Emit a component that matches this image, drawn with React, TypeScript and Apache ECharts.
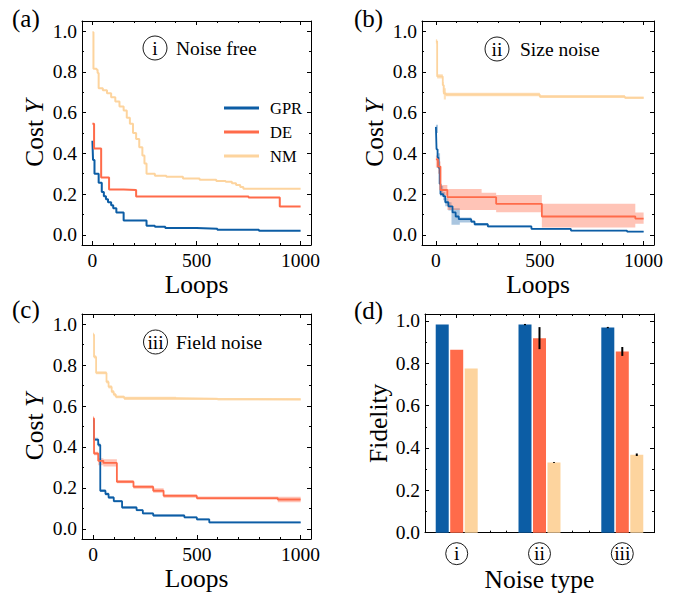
import React, { useEffect, useRef } from 'react';
import * as echarts from 'echarts';

const FONT = 'Liberation Serif';
const methods = ['GPR', 'DE', 'NM'];
const colors = ['#0C5DA5', '#FF6B4A', '#FDD49E'];
const bandColors = ['rgba(12,93,165,0.35)', 'rgba(255,107,74,0.4)', 'rgba(253,196,120,0.5)'];

// tick values
const loopTicks = [0, 500, 1000];
const loopMinorTicks = [100, 200, 300, 400, 600, 700, 800, 900];
const costTicks = [0, 0.2, 0.4, 0.6, 0.8, 1.0];
const costMinorTicks = [0.1, 0.3, 0.5, 0.7, 0.9];
const noiseTypes = ['i', 'ii', 'iii'];
const noiseTickPos = [0, 1, 2];
const noiseMinorTicks = [-0.2, 0.2, 0.4, 0.6, 0.8, 1.2, 1.4, 1.6, 1.8, 2.2];
const annotations = ['Noise free', 'Size noise', 'Field noise'];

// (a) noise free: [loop, cost]
const gprA = [[0, 0.462], [3, 0.367], [10, 0.3], [30, 0.256], [45, 0.21], [55, 0.19], [65, 0.175], [75, 0.16], [90, 0.145], [100, 0.13], [115, 0.11], [150, 0.07], [260, 0.045], [300, 0.04], [350, 0.033], [500, 0.03], [600, 0.025], [800, 0.02], [1000, 0.017]];
const deA = [[0, 0.545], [8, 0.424], [42, 0.282], [80, 0.223], [150, 0.22], [210, 0.188], [750, 0.183], [900, 0.139], [1000, 0.139]];
const nmA = [[0, 0.995], [5, 0.816], [20, 0.81], [25, 0.795], [30, 0.72], [50, 0.71], [70, 0.695], [90, 0.675], [110, 0.655], [130, 0.63], [150, 0.61], [165, 0.575], [180, 0.545], [195, 0.5], [210, 0.47], [225, 0.43], [240, 0.39], [250, 0.35], [260, 0.3], [300, 0.29], [355, 0.285], [435, 0.277], [515, 0.27], [595, 0.264], [640, 0.26], [670, 0.253], [690, 0.245], [710, 0.235], [725, 0.226], [1000, 0.226]];

// (b) size noise: lines [loop, cost], bands [loop, low, high]
const gprB = [[0, 0.53], [3, 0.42], [8, 0.38], [12, 0.33], [18, 0.25], [22, 0.2], [35, 0.19], [45, 0.16], [60, 0.14], [80, 0.11], [95, 0.09], [110, 0.077], [170, 0.065], [186, 0.052], [250, 0.041], [460, 0.029], [650, 0.021], [920, 0.016], [1000, 0.016]];
const gprBandB = [[0, 0.5, 0.54], [10, 0.33, 0.4], [20, 0.19, 0.24], [35, 0.17, 0.21], [45, 0.14, 0.18], [60, 0.12, 0.16], [75, 0.05, 0.13], [115, 0.06, 0.085], [170, 0.058, 0.072], [186, 0.046, 0.058], [250, 0.036, 0.046], [460, 0.025, 0.033], [650, 0.018, 0.024], [920, 0.013, 0.019], [1000, 0.013, 0.019]];
const deB = [[0, 0.37], [10, 0.335], [22, 0.22], [55, 0.185], [290, 0.152], [510, 0.09], [960, 0.08], [1000, 0.08]];
const deBandB = [[0, 0.33, 0.39], [10, 0.3, 0.36], [22, 0.195, 0.245], [55, 0.122, 0.225], [220, 0.122, 0.207], [290, 0.111, 0.196], [510, 0.036, 0.152], [960, 0.054, 0.109], [1000, 0.054, 0.109]];
const nmB = [[0, 0.95], [6, 0.778], [33, 0.735], [38, 0.694], [48, 0.689], [500, 0.679], [910, 0.673], [1000, 0.672]];
const nmBandB = [[0, 0.94, 0.96], [6, 0.768, 0.788], [33, 0.7, 0.75], [38, 0.664, 0.72], [48, 0.68, 0.698], [500, 0.672, 0.686], [910, 0.668, 0.678], [1000, 0.668, 0.678]];

// (c) field noise
const gprC = [[0, 0.53], [5, 0.436], [25, 0.41], [35, 0.186], [60, 0.17], [75, 0.153], [100, 0.135], [140, 0.104], [210, 0.091], [240, 0.075], [290, 0.065], [440, 0.056], [500, 0.046], [560, 0.031], [1000, 0.028]];
const gprBandC = [[0, 0.52, 0.54], [5, 0.43, 0.445], [25, 0.4, 0.42], [35, 0.18, 0.193], [60, 0.163, 0.177], [75, 0.147, 0.159], [100, 0.129, 0.141], [140, 0.099, 0.11], [210, 0.086, 0.096], [240, 0.07, 0.08], [290, 0.06, 0.07], [440, 0.051, 0.061], [500, 0.041, 0.051], [560, 0.026, 0.036], [1000, 0.024, 0.032]];
const deC = [[0, 0.539], [5, 0.368], [25, 0.332], [50, 0.322], [115, 0.23], [195, 0.205], [290, 0.186], [340, 0.161], [500, 0.15], [890, 0.143], [1000, 0.143]];
const deBandC = [[0, 0.53, 0.55], [5, 0.36, 0.376], [25, 0.31, 0.345], [50, 0.305, 0.34], [115, 0.222, 0.238], [195, 0.196, 0.214], [290, 0.176, 0.198], [340, 0.152, 0.17], [500, 0.142, 0.158], [890, 0.13, 0.156], [1000, 0.13, 0.156]];
const nmC = [[0, 0.949], [5, 0.84], [15, 0.762], [65, 0.718], [75, 0.694], [90, 0.67], [100, 0.656], [110, 0.645], [150, 0.638], [400, 0.635], [600, 0.633], [1000, 0.632]];
const nmBandC = [[0, 0.94, 0.958], [5, 0.832, 0.848], [15, 0.755, 0.77], [65, 0.71, 0.726], [75, 0.686, 0.702], [90, 0.662, 0.678], [100, 0.648, 0.664], [110, 0.638, 0.652], [150, 0.629, 0.646], [400, 0.629, 0.641], [600, 0.627, 0.639], [1000, 0.627, 0.637]];

// (d) fidelity bars, per noise type
const fidelityGPR = [0.983, 0.983, 0.969];
const fidelityDE = [0.864, 0.919, 0.856];
const fidelityNM = [0.776, 0.331, 0.368];
const errGPR = [0, 0.003, 0.003];
const errDE = [0, 0.052, 0.021];
const errNM = [0, 0.002, 0.006];
const barOffsets = [-0.175, 0, 0.175];

const tickLine = { color: '#000', width: 1 };

function xAxes(grid: number, min: number, max: number, major: number[], minor: number[], label: any, name: string, nameGap: number) {
  const base: any = { type: 'value', gridIndex: grid, min, max, splitLine: { show: false } };
  const line = { show: true, onZero: false, lineStyle: { color: '#000', width: 1 } };
  const noLine = { show: false, onZero: false };
  return [
    {
      ...base, position: 'bottom', axisLine: line,
      axisTick: { show: true, inside: true, length: 4, customValues: major, lineStyle: tickLine },
      axisLabel: { show: true, customValues: major, margin: 5, color: '#000', fontFamily: FONT, fontSize: 19.5, ...label },
      name, nameLocation: 'middle', nameGap,
      nameTextStyle: { fontFamily: FONT, fontSize: 25.5, color: '#000' },
    },
    { ...base, position: 'top', axisLine: line, axisTick: { show: true, inside: true, length: 4, customValues: major, lineStyle: tickLine }, axisLabel: { show: false } },
    { ...base, position: 'bottom', axisLine: noLine, axisTick: { show: true, inside: true, length: 2, customValues: minor, lineStyle: tickLine }, axisLabel: { show: false } },
    { ...base, position: 'top', axisLine: noLine, axisTick: { show: true, inside: true, length: 2, customValues: minor, lineStyle: tickLine }, axisLabel: { show: false } },
  ];
}

function yAxes(grid: number, min: number, max: number, name: any, nameGap: number, rich: any) {
  const base: any = { type: 'value', gridIndex: grid, min, max, splitLine: { show: false } };
  const line = { show: true, onZero: false, lineStyle: { color: '#000', width: 1 } };
  const noLine = { show: false, onZero: false };
  return [
    {
      ...base, position: 'left', axisLine: line,
      axisTick: { show: true, inside: true, length: 4, customValues: costTicks, lineStyle: tickLine },
      axisLabel: { show: true, customValues: costTicks, margin: 5, color: '#000', fontFamily: FONT, fontSize: 19.5, formatter: (v: number) => v.toFixed(1) },
      name, nameLocation: 'middle', nameGap,
      nameTextStyle: { fontFamily: FONT, fontSize: 25.5, color: '#000', rich },
    },
    { ...base, position: 'right', axisLine: line, axisTick: { show: true, inside: true, length: 4, customValues: costTicks, lineStyle: tickLine }, axisLabel: { show: false } },
    { ...base, position: 'left', axisLine: noLine, axisTick: { show: true, inside: true, length: 2, customValues: costMinorTicks, lineStyle: tickLine }, axisLabel: { show: false } },
    { ...base, position: 'right', axisLine: noLine, axisTick: { show: true, inside: true, length: 2, customValues: costMinorTicks, lineStyle: tickLine }, axisLabel: { show: false } },
  ];
}

function bandSeries(band: number[][], color: string, ai: number) {
  return {
    type: 'custom', xAxisIndex: ai, yAxisIndex: ai, silent: true, z: 1,
    data: [[band[0][0], band[0][1]]],
    renderItem: (_p: any, api: any) => {
      const up: number[][] = [];
      const lo: number[][] = [];
      for (let i = 0; i < band.length; i++) {
        up.push(api.coord([band[i][0], band[i][2]]));
        lo.push(api.coord([band[i][0], band[i][1]]));
        if (i < band.length - 1) {
          up.push(api.coord([band[i + 1][0], band[i][2]]));
          lo.push(api.coord([band[i + 1][0], band[i][1]]));
        }
      }
      return { type: 'polygon', shape: { points: up.concat(lo.reverse()) }, style: { fill: color } };
    },
  };
}

function lineSeries(name: string, data: number[][], color: string, ai: number, width: number) {
  return {
    type: 'line', name, xAxisIndex: ai, yAxisIndex: ai, step: 'end', showSymbol: false, symbol: 'none',
    data, z: 3, lineStyle: { color, width }, itemStyle: { color }, silent: true,
  };
}

export default function App() {
  const ref = useRef<HTMLDivElement>(null);
  useEffect(() => {
    if (!ref.current) return;
    const chart = echarts.init(ref.current, undefined, { renderer: 'svg' });
    const costName = '{r|Cost }{i|Y}';
    const costRich = { r: { fontFamily: FONT, fontSize: 25.5, color: '#000' }, i: { fontFamily: FONT, fontSize: 25.5, fontStyle: 'italic', color: '#000' } };
    const loopLabel = { formatter: (v: number) => String(v) };

    const xAxis = [
      ...xAxes(0, -50, 1050, loopTicks, loopMinorTicks, loopLabel, 'Loops', 26),
      ...xAxes(1, -67, 1050, loopTicks, loopMinorTicks, loopLabel, 'Loops', 26),
      ...xAxes(2, -53, 1050, loopTicks, loopMinorTicks, loopLabel, 'Loops', 26),
      ...xAxes(3, -0.383, 2.383, noiseTickPos, noiseMinorTicks, {
        margin: 10,
        formatter: (v: number) => `{c|${noiseTypes[Math.round(v)]}}`,
        rich: { c: { width: 22, height: 22, lineHeight: 22, align: 'center', verticalAlign: 'middle', borderColor: '#000', borderWidth: 0.9, borderRadius: 12, fontFamily: FONT, fontSize: 19.5, color: '#000' } },
      }, 'Noise type', 24),
    ];
    const yAxis = [
      ...yAxes(0, -0.05, 1.05, costName, 35, costRich),
      ...yAxes(1, -0.05, 1.05, costName, 35, costRich),
      ...yAxes(2, -0.05, 1.05, costName, 35, costRich),
      ...yAxes(3, 0, 1.033, 'Fidelity', 33, undefined),
    ];

    const lineSets = [
      { ai: 0, lines: [gprA, deA, nmA], bands: null as any, w: 2 },
      { ai: 4, lines: [gprB, deB, nmB], bands: [gprBandB, deBandB, nmBandB], w: 1.8 },
      { ai: 8, lines: [gprC, deC, nmC], bands: [gprBandC, deBandC, nmBandC], w: 1.8 },
    ];
    const series: any[] = [];
    lineSets.forEach((set) => {
      if (set.bands) set.bands.forEach((b: number[][], k: number) => series.push(bandSeries(b, bandColors[k], set.ai)));
      set.lines.forEach((d, k) => series.push(lineSeries(methods[k], d, colors[k], set.ai, set.w)));
    });

    const fids = [fidelityGPR, fidelityDE, fidelityNM];
    const errs = [errGPR, errDE, errNM];
    fids.forEach((vals, k) => {
      series.push({
        type: 'bar', xAxisIndex: 12, yAxisIndex: 12, barWidth: 13, barGap: '-100%', silent: true,
        itemStyle: { color: colors[k] }, z: 2,
        data: noiseTickPos.map((p, i) => [p + barOffsets[k], vals[i]]),
      });
    });
    const errData: number[][] = [];
    fids.forEach((vals, k) => {
      vals.forEach((v, i) => {
        if (errs[k][i] > 0) errData.push([noiseTickPos[i] + barOffsets[k], v - errs[k][i], v + errs[k][i]]);
      });
    });
    series.push({
      type: 'custom', xAxisIndex: 12, yAxisIndex: 12, z: 5, silent: true,
      data: errData, encode: { x: 0, y: [1, 2] },
      renderItem: (_p: any, api: any) => {
        const a = api.coord([api.value(0), api.value(1)]);
        const b = api.coord([api.value(0), api.value(2)]);
        return { type: 'line', shape: { x1: a[0], y1: a[1], x2: b[0], y2: b[1] }, style: { stroke: '#000', lineWidth: 2 } };
      },
    });

    const panelLabels = [
      { t: '(a)', x: 12, y: 18 },
      { t: '(b)', x: 354, y: 18 },
      { t: '(c)', x: 12, y: 309 },
      { t: '(d)', x: 354, y: 310 },
    ];
    const annPos = [
      { cx: 155, cy: 48, tx: 176 },
      { cx: 497, cy: 49, tx: 520 },
      { cx: 155.5, cy: 342, tx: 176 },
    ];
    const graphic: any[] = [];
    panelLabels.forEach((p) => graphic.push({
      type: 'text', x: p.x, y: p.y, silent: true,
      style: { text: p.t, fontFamily: FONT, fontSize: 25, fill: '#000', textVerticalAlign: 'middle', verticalAlign: 'middle' },
    }));
    annPos.forEach((a, i) => {
      graphic.push({ type: 'circle', shape: { cx: a.cx, cy: a.cy, r: 12 }, style: { fill: 'none', stroke: '#000', lineWidth: 0.9 }, silent: true });
      graphic.push({ type: 'text', x: a.cx, y: a.cy, silent: true, style: { text: noiseTypes[i], fontFamily: FONT, fontSize: 19.5, fill: '#000', align: 'center', verticalAlign: 'middle' } });
      graphic.push({ type: 'text', x: a.tx, y: a.cy, silent: true, style: { text: annotations[i], fontFamily: FONT, fontSize: 19.5, fill: '#000', align: 'left', verticalAlign: 'middle' } });
    });

    chart.setOption({
      animation: false,
      backgroundColor: '#fff',
      grid: [
        { left: 82, top: 21, width: 229, height: 224 },
        { left: 422, top: 21, width: 232, height: 224 },
        { left: 82, top: 314, width: 229, height: 225 },
        { left: 425, top: 314, width: 229, height: 225 },
      ],
      legend: {
        data: methods, orient: 'vertical', left: 219, top: 94, itemWidth: 35, itemHeight: 3, icon: 'rect',
        itemGap: 6, selectedMode: false,
        textStyle: { fontFamily: FONT, fontSize: 16.5, color: '#000', lineHeight: 18, padding: [0, 0, 0, 6] },
      },
      xAxis, yAxis, series, graphic,
    });
    return () => chart.dispose();
  }, []);
  return <div ref={ref} style={{ position: 'absolute', left: 0, top: 0, width: 685, height: 593, background: '#fff' }} />;
}
